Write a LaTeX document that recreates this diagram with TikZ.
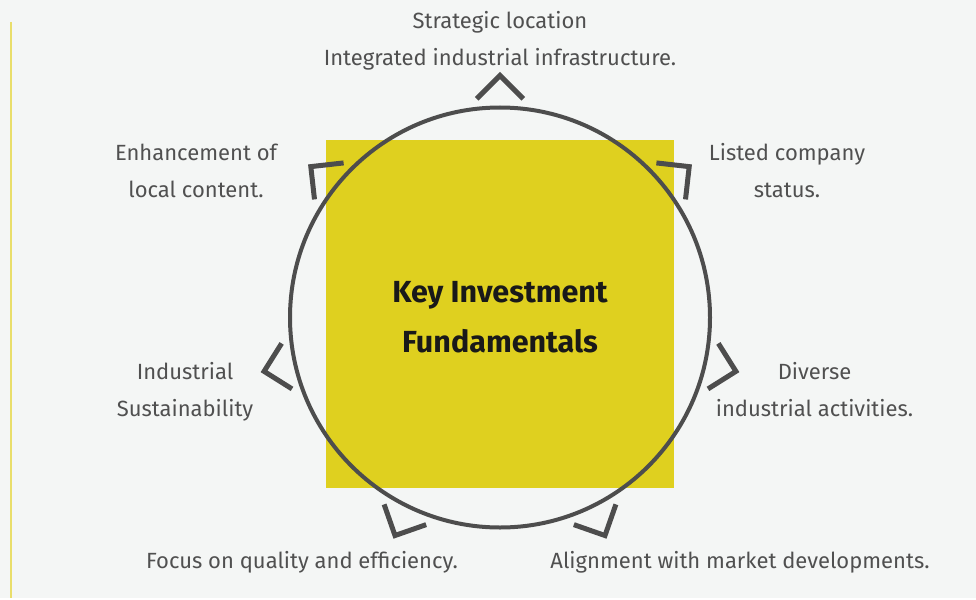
\documentclass[tikz,border=0pt]{standalone}
\usepackage{fontspec}
\setmainfont{Fira Sans}
\usepackage{tikz}
\usetikzlibrary{positioning,calc}

\definecolor{pagebg}{HTML}{F4F6F5}
\definecolor{keyyellow}{HTML}{DFD01F}
\definecolor{rulebar}{HTML}{E9DE6B}
\definecolor{ringgrey}{HTML}{4D4D4D}
\definecolor{labelgrey}{HTML}{505050}

\begin{document}
\begin{tikzpicture}[x=1pt,y=1pt,
        point/.style={font=\fontsize{22}{37}\selectfont,text=labelgrey,align=center,inner sep=0pt},
        chevron/.style={draw=ringgrey,line width=5pt}]
    \fill[pagebg] (0,0) rectangle (976,-598);
    \draw[rulebar,line width=2pt] (11,-22) -- (11,-598);

    \coordinate (C) at (500,-317.5);
    \fill[keyyellow] (326,-140) rectangle (674,-488);
    \draw[ringgrey,line width=4pt] (C) circle (210pt);

    % seven chevrons, evenly spaced round the ring
    \foreach \k in {0,...,6}{
        \pgfmathsetmacro{\a}{90-\k*360/7}
        \draw[chevron] (C) ++(\a:242) ++(\a+135:33) -- ++(\a-45:33) -- ++(\a-135:33);
    }

    \node[font=\bfseries\fontsize{30.5}{50}\selectfont,align=center,text=black!90] (title) at (500,-317.5) {Key Investment\\Fundamentals};

    \node[point] (strategic) at (500,-40.5) {Strategic location\\Integrated industrial infrastructure.};
    \node[point] (localcontent) at (196,-170.5) {Enhancement of\\local content.};
    \node[point] (listed) at (787,-170.5) {Listed company\\status.};
    \node[point] (sustain) at (185,-392) {Industrial\\Sustainability};
    \node[point] (diverse) at (814.5,-390) {Diverse\\industrial activities.};
    \node[point,anchor=base] (quality) at (302,-568) {Focus on quality and efficiency.};
    \node[point,anchor=base] (market) at (740,-568) {Alignment with market developments.};
\end{tikzpicture}
\end{document}
